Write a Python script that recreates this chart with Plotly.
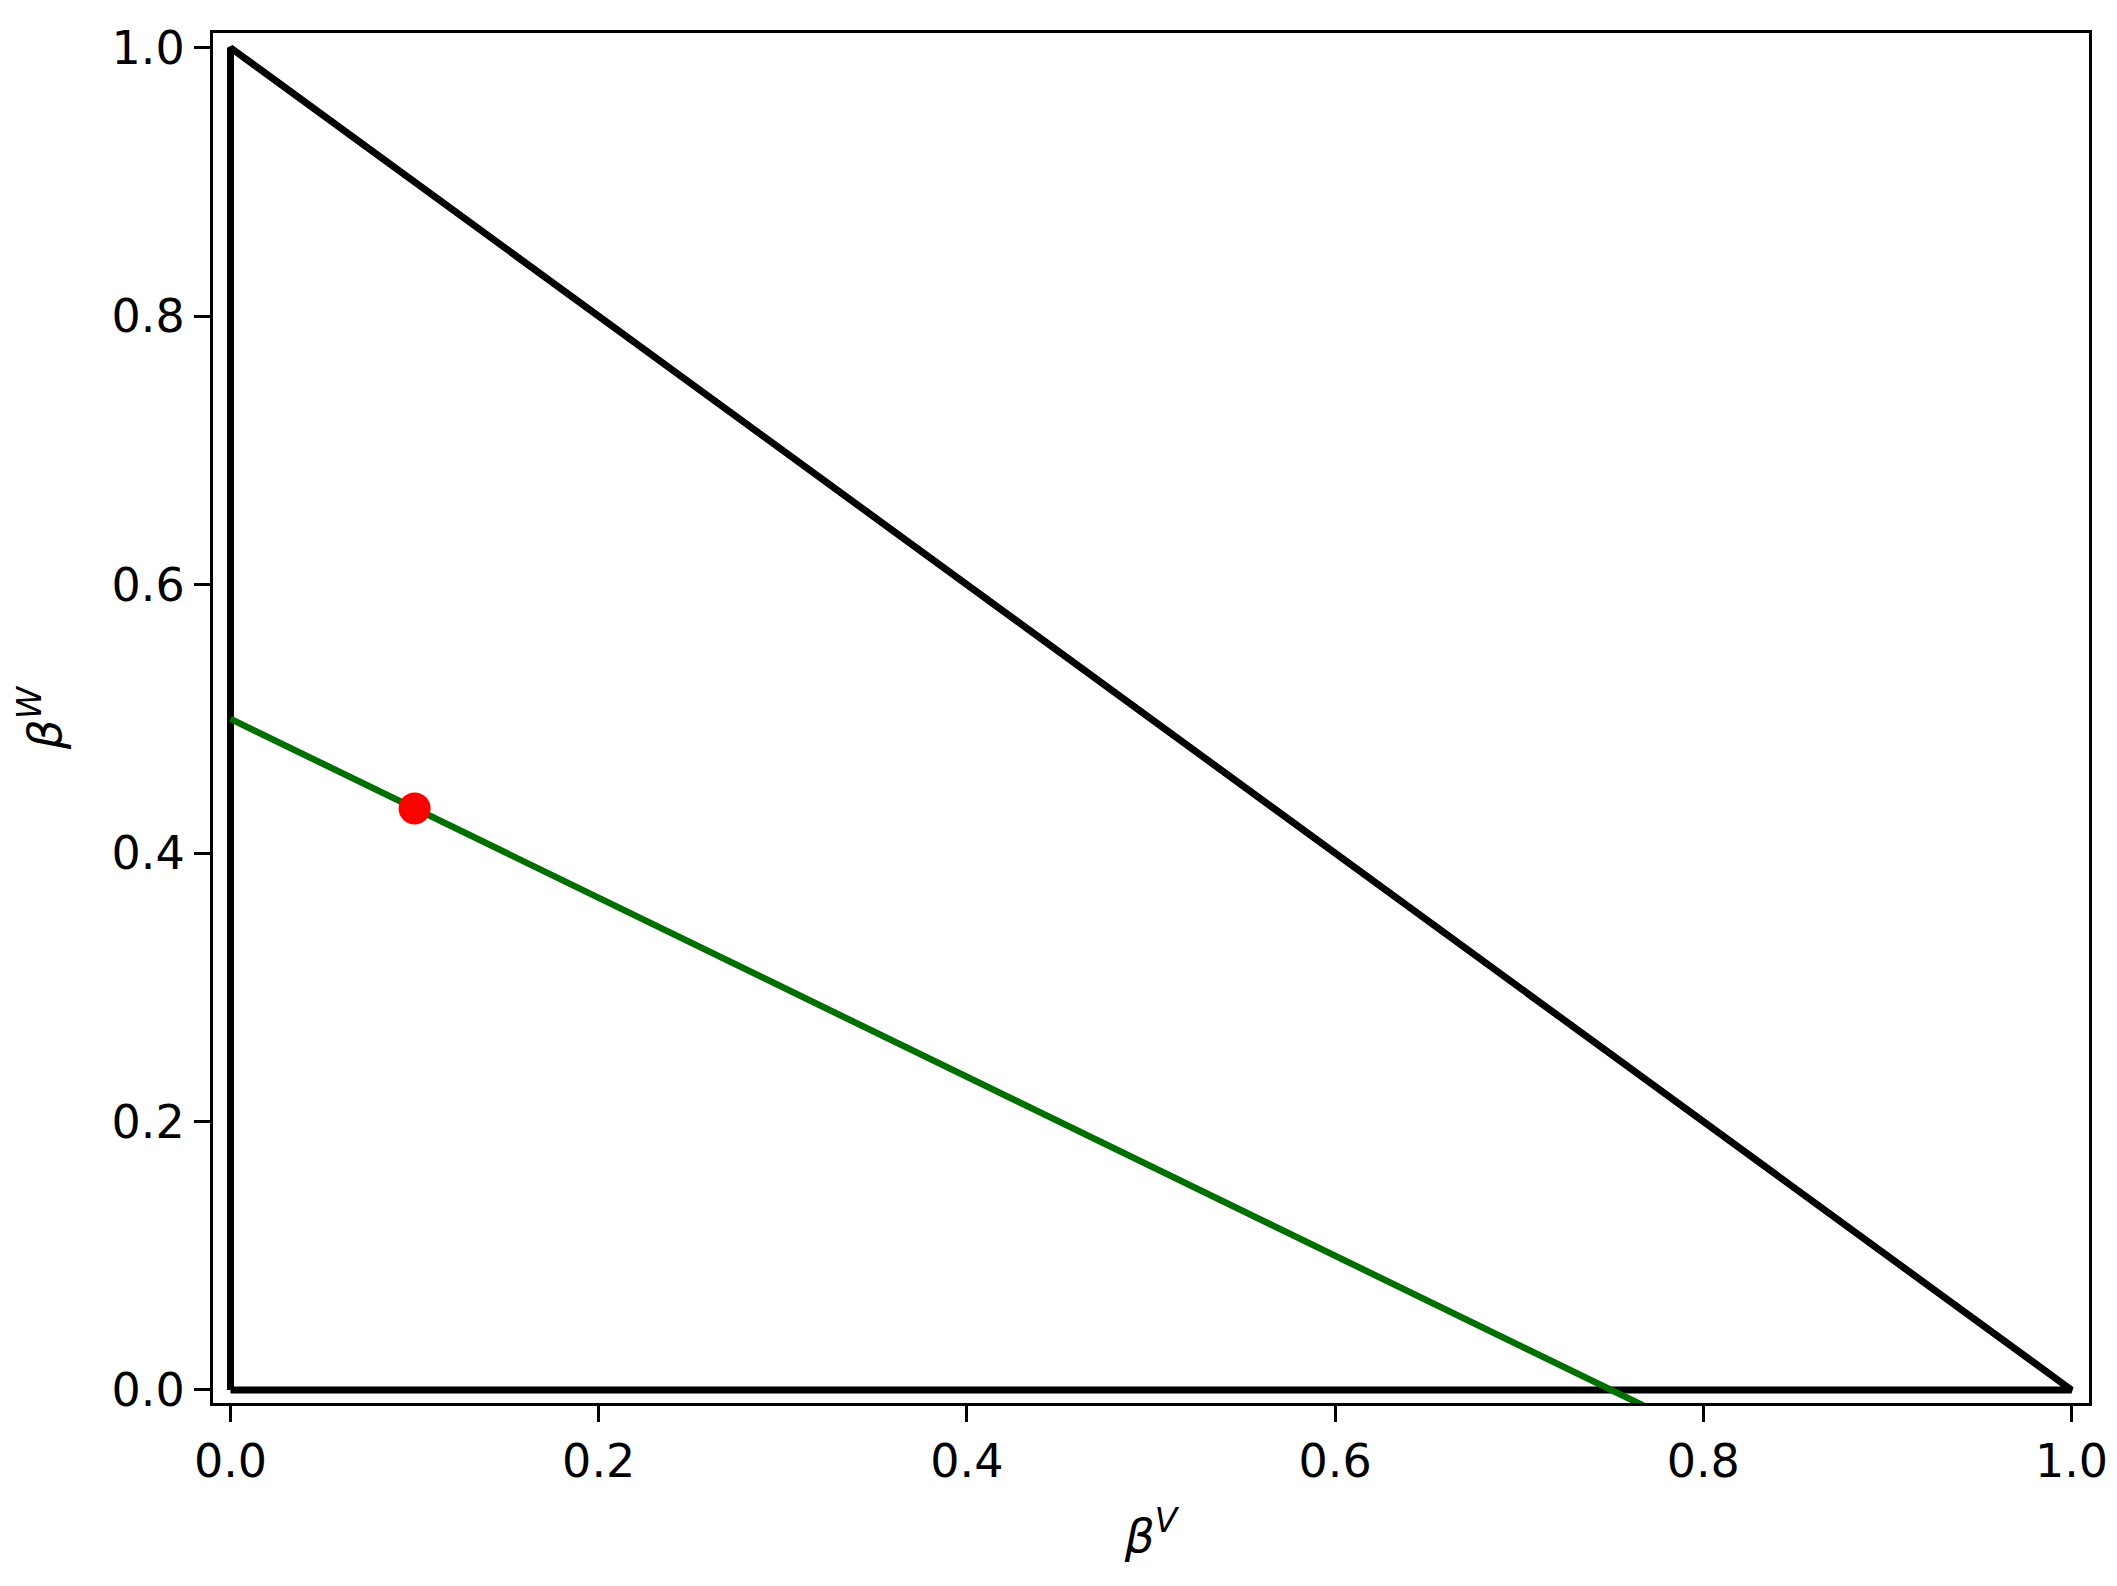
import plotly.graph_objects as go

# Data
triangle_x = [0.0, 1.0, 0.0, 0.0]
triangle_y = [0.0, 0.0, 1.0, 0.0]
green_x = [0.0, 0.78]
green_y = [0.5, -0.02]
point_x = [0.1]
point_y = [0.4333]
tick_vals = [0.0, 0.2, 0.4, 0.6, 0.8, 1.0]
tick_text = ["0.0", "0.2", "0.4", "0.6", "0.8", "1.0"]

fig = go.Figure()
fig.add_trace(go.Scatter(x=triangle_x, y=triangle_y, mode="lines",
                         line=dict(color="black", width=7), showlegend=False))
fig.add_trace(go.Scatter(x=green_x, y=green_y, mode="lines",
                         line=dict(color="#006f00", width=6.5), showlegend=False))
fig.add_trace(go.Scatter(x=point_x, y=point_y, mode="markers",
                         marker=dict(color="red", size=32, line=dict(width=0)),
                         showlegend=False))

axis_common = dict(
    showgrid=False, zeroline=False, showline=True, mirror=True,
    linecolor="black", linewidth=3.2, ticks="outside", ticklen=16,
    tickwidth=3.2, tickcolor="black", tickvals=tick_vals, ticktext=tick_text,
    tickfont=dict(family="DejaVu Sans", size=46, color="black"),
    automargin=False,
)

# page body has an 8px default margin, so the figure is offset by 8px
fig.update_layout(
    width=2109, height=1578,
    margin=dict(l=205, r=28, t=25, b=183),
    paper_bgcolor="white", plot_bgcolor="white",
    xaxis=dict(range=[-0.0095, 1.0095],
               title=dict(text="<i>β</i><sup><i>V</i></sup>",
                          font=dict(family="DejaVu Sans", size=47, color="black"),
                          standoff=32),
               **axis_common),
    yaxis=dict(range=[-0.0097, 1.011],
               title=dict(text="<i>β</i><sup><i>W</i></sup>",
                          font=dict(family="DejaVu Sans", size=47, color="black"),
                          standoff=36),
               **axis_common),
)

fig.write_html("out.html")
